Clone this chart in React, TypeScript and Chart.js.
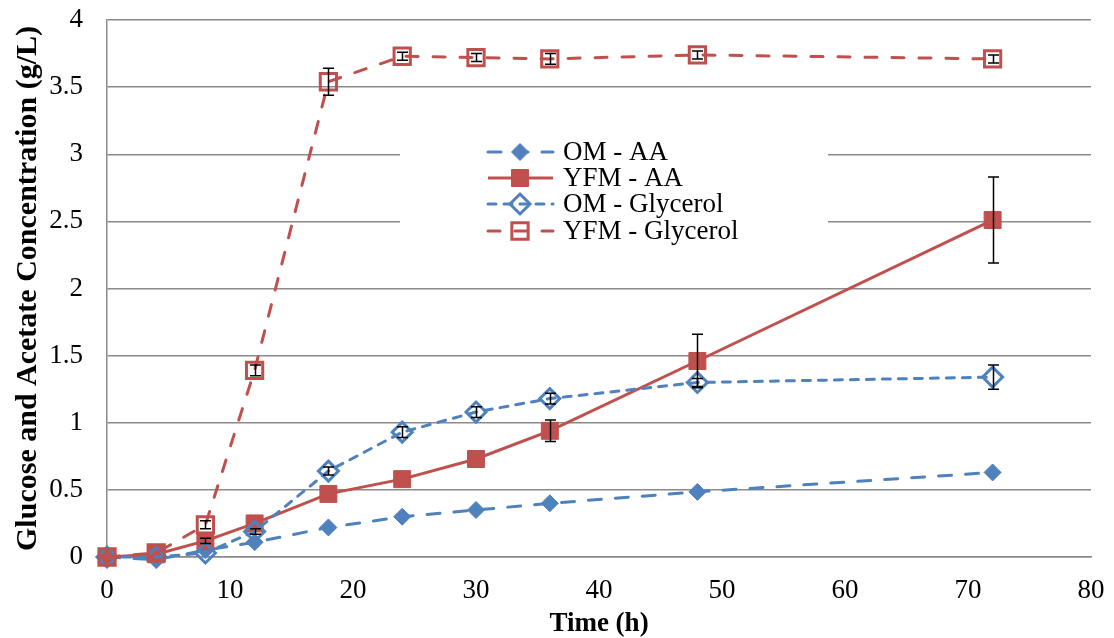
import React, { useEffect, useRef } from 'react';
import { Chart, registerables } from 'chart.js';

Chart.register(...registerables);

// ---- data ----
const times = [0, 4, 8, 12, 18, 24, 30, 36, 48, 72];
const xTickStep = 10;
const yTickStep = 0.5;

const seriesLabels = ['OM - AA', 'YFM - AA', 'OM - Glycerol', 'YFM - Glycerol'];

const omAA = [0, -0.02, 0.05, 0.11, 0.22, 0.3, 0.35, 0.4, 0.485, 0.63];
const yfmAA = [0, 0.02, 0.12, 0.25, 0.47, 0.58, 0.73, 0.94, 1.46, 2.51];
const omGly = [0, 0, 0.03, 0.19, 0.64, 0.93, 1.08, 1.18, 1.3, 1.34];
const yfmGly = [0, 0.03, 0.24, 1.39, 3.54, 3.73, 3.72, 3.71, 3.74, 3.71];

const omAAErr = [0, 0, 0, 0, 0, 0, 0, 0, 0, 0];
const yfmAAErr = [0, 0, 0.02, 0, 0, 0, 0, 0.08, 0.2, 0.32];
const omGlyErr = [0, 0, 0, 0.02, 0.03, 0.04, 0.04, 0.04, 0.03, 0.09];
const yfmGlyErr = [0, 0, 0.03, 0.04, 0.1, 0.03, 0.03, 0.04, 0.03, 0.03];

const BLUE = '#4F81BD';
const RED = '#C0504D';
const GRID = '#8a8a8a';
const FONT = '"Liberation Serif", "Times New Roman", serif';

const seriesValues = [omAA, yfmAA, omGly, yfmGly];
const seriesErrors = [omAAErr, yfmAAErr, omGlyErr, yfmGlyErr];

type Style = {
  color: string;
  dash: number[];
  marker: 'diamond' | 'square';
  filled: boolean;
  radius: number;
};

const styles: Style[] = [
  { color: BLUE, dash: [13, 14], marker: 'diamond', filled: true, radius: 8.5 },
  { color: RED, dash: [], marker: 'square', filled: true, radius: 12 },
  { color: BLUE, dash: [8, 8], marker: 'diamond', filled: false, radius: 10 },
  { color: RED, dash: [12, 15], marker: 'square', filled: false, radius: 11.5 },
];

const errorBarsPlugin = {
  id: 'errorBars',
  afterDatasetsDraw(chart: any) {
    const { ctx, scales } = chart;
    const xs = scales.x;
    const ys = scales.y;
    ctx.save();
    ctx.strokeStyle = '#000';
    ctx.lineWidth = 1.5;
    ctx.setLineDash([]);
    seriesValues.forEach((vals, di) => {
      const errs = seriesErrors[di];
      vals.forEach((v, i) => {
        const e = errs[i];
        if (!e) return;
        const px = Math.round(xs.getPixelForValue(times[i])) + 0.5;
        const top = ys.getPixelForValue(v + e);
        const bot = ys.getPixelForValue(v - e);
        ctx.beginPath();
        ctx.moveTo(px, top);
        ctx.lineTo(px, bot);
        ctx.moveTo(px - 5.5, top);
        ctx.lineTo(px + 5.5, top);
        ctx.moveTo(px - 5.5, bot);
        ctx.lineTo(px + 5.5, bot);
        ctx.stroke();
      });
    });
    ctx.restore();
  },
};

function drawMarker(ctx: CanvasRenderingContext2D, s: Style, x: number, y: number) {
  ctx.save();
  ctx.setLineDash([]);
  ctx.beginPath();
  if (s.marker === 'diamond') {
    const r = s.radius;
    ctx.moveTo(x - r, y);
    ctx.lineTo(x, y - r);
    ctx.lineTo(x + r, y);
    ctx.lineTo(x, y + r);
    ctx.closePath();
  } else {
    const h = s.radius * Math.SQRT1_2;
    ctx.rect(x - h, y - h, 2 * h, 2 * h);
  }
  ctx.strokeStyle = s.color;
  ctx.lineWidth = s.filled ? 1 : 3;
  if (s.filled) {
    ctx.fillStyle = s.color;
    ctx.fill();
  }
  ctx.stroke();
  ctx.restore();
}

const legendPlugin = {
  id: 'customLegend',
  afterDraw(chart: any) {
    const { ctx } = chart;
    ctx.save();
    ctx.fillStyle = '#fff';
    ctx.fillRect(400, 132, 428, 116);
    const rows = [152, 178, 204, 231];
    seriesLabels.forEach((label, i) => {
      const s = styles[i];
      const y = rows[i];
      ctx.save();
      ctx.strokeStyle = s.color;
      ctx.lineWidth = 3;
      ctx.lineCap = s.dash.length ? 'round' : 'butt';
      ctx.setLineDash(s.dash);
      ctx.beginPath();
      ctx.moveTo(488, y);
      ctx.lineTo(553, y);
      ctx.stroke();
      ctx.restore();
      drawMarker(ctx, s, 520, y);
      ctx.fillStyle = '#000';
      ctx.font = `27px ${FONT}`;
      ctx.textBaseline = 'middle';
      ctx.textAlign = 'left';
      ctx.fillText(label, 563, y + 1);
    });
    ctx.restore();
  },
};

export default function App() {
  const ref = useRef<HTMLCanvasElement>(null);

  useEffect(() => {
    const canvas = ref.current;
    if (!canvas) return;

    const datasets = seriesLabels.map((label, i) => {
      const s = styles[i];
      return {
        label,
        data: times.map((t, j) => ({ x: t, y: seriesValues[i][j] })),
        borderColor: s.color,
        backgroundColor: s.color,
        borderWidth: 3,
        borderDash: s.dash,
        borderCapStyle: s.dash.length ? 'round' : 'butt',
        tension: 0,
        pointStyle: s.marker === 'diamond' ? 'rectRot' : 'rect',
        pointRadius: s.radius,
        pointBorderWidth: s.filled ? 1 : 3,
        pointBackgroundColor: s.filled ? s.color : 'rgba(0,0,0,0)',
        pointBorderColor: s.color,
        clip: false,
        order: 4 - i,
      };
    });

    const chart = new Chart(canvas, {
      type: 'line',
      data: { datasets } as any,
      options: {
        animation: false,
        responsive: false,
        devicePixelRatio: 1,
        layout: { padding: 0 },
        plugins: {
          legend: { display: false },
          tooltip: { enabled: false },
        },
        scales: {
          x: {
            type: 'linear',
            min: 0,
            max: 80,
            afterFit: (scale: any) => {
              scale.height = 81;
              scale.paddingLeft = 0;
              scale.paddingRight = 23;
            },
            grid: { display: false, drawTicks: false },
            border: { display: true, color: GRID, width: 1.5 },
            ticks: {
              stepSize: xTickStep,
              padding: 18,
              color: '#000',
              font: { family: FONT, size: 27 },
              maxRotation: 0,
            },
            title: {
              display: true,
              text: 'Time (h)',
              color: '#000',
              font: { family: FONT, size: 27, weight: 'bold', lineHeight: 1 },
              padding: { top: 0, bottom: 0 },
            },
          },
          y: {
            type: 'linear',
            min: 0,
            max: 4,
            afterFit: (scale: any) => {
              scale.width = 107;
              scale.paddingTop = 20;
              scale.paddingBottom = 0;
            },
            grid: { color: GRID, lineWidth: 1.5, drawTicks: false },
            border: { display: true, color: GRID, width: 1.5 },
            ticks: {
              stepSize: yTickStep,
              padding: 24,
              color: '#000',
              font: { family: FONT, size: 27 },
              callback: (v: any) => String(Number(v)),
            },
            title: {
              display: true,
              text: 'Glucose and Acetate Concentration (g/L)',
              color: '#000',
              font: { family: FONT, size: 30, weight: 'bold', lineHeight: 1 },
              padding: { top: 13, bottom: 0 },
            },
          },
        },
      } as any,
      plugins: [errorBarsPlugin, legendPlugin],
    });

    return () => chart.destroy();
  }, []);

  return (
    <div style={{ position: 'fixed', left: 0, top: 0, width: 1114, height: 638, background: '#fff' }}>
      <canvas ref={ref} width={1114} height={638} style={{ display: 'block' }} />
    </div>
  );
}
